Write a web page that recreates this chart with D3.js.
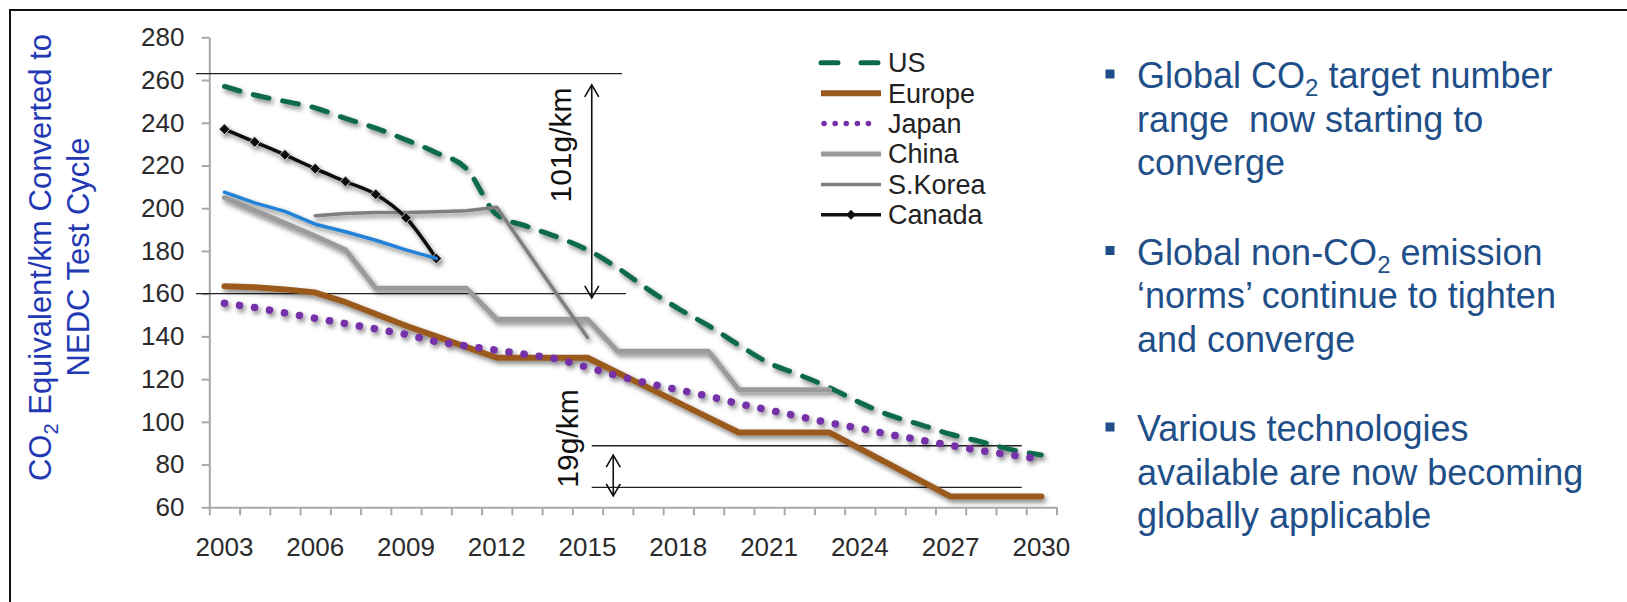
<!DOCTYPE html>
<html>
<head>
<meta charset="utf-8">
<script src="https://cdn.jsdelivr.net/npm/d3@7"></script>
<style>
  html, body { margin: 0; padding: 0; background: #ffffff; }
  svg { display: block; font-family: "Liberation Sans", Arial, Helvetica, sans-serif; }
</style>
</head>
<body>
<svg id="chart" width="1627" height="602"></svg>
<script>
// ---- data -------------------------------------------------------------
const years = [2003, 2004, 2005, 2006, 2007, 2008, 2009, 2010, 2011, 2012, 2013, 2014, 2015, 2016,
               2017, 2018, 2019, 2020, 2021, 2022, 2023, 2024, 2025, 2026, 2027, 2028, 2029, 2030];
const xTickLabels = [2003, 2006, 2009, 2012, 2015, 2018, 2021, 2024, 2027, 2030];
const yTickValues = [60, 80, 100, 120, 140, 160, 180, 200, 220, 240, 260, 280];

// g CO2/km (NEDC) per year, each series starting at its first year
const usStart = 2003;
const usValues = [257, 253, 250, 247, 242, 237.5, 232, 226, 218.5, 197, 191.5, 186.5, 180.5, 172,
                  162, 153, 145, 136, 127.5, 122, 116, 109, 103, 98.7, 94.2, 90.7, 87, 84.5];
const europeStart = 2003;
const europeValues = [163.5, 163, 162, 160.5, 156, 150.5, 145, 140, 135, 130, 130, 130, 130, 123,
                      116, 109, 102, 95, 95, 95, 95, 87.5, 80, 72.5, 65, 65, 65, 65];
const japanStart = 2003;
const japanValues = [155.5, 153.5, 151, 148.5, 146, 143.5, 141, 137.5, 135.5, 133.5, 131.5, 129.5, 125.5, 121.5,
                     118, 115, 112, 108.5, 105.5, 102.5, 99.5, 97, 94, 91.5, 89, 86.5, 84.5, 82.5];
const chinaStart = 2003;
const chinaValues = [205, 199, 193, 187, 180.5, 162.5, 162.5, 162.5, 162.5, 148, 148, 148, 148, 133,
                     133, 133, 133, 115, 115, 115, 115];
const koreaStart = 2006;
const koreaValues = [196.5, 197.5, 198, 198, 198.3, 198.8, 200.5, 180, 159.5, 139.5];
const canadaStart = 2003;
const canadaValues = [237, 231, 225, 218.5, 212.5, 206.5, 195.5, 176.5];
const blueStart = 2003;
const blueValues = [207.5, 202.5, 198.5, 192.5, 189, 185, 180.5, 176.5];

// spread annotations: horizontal guide lines and the double arrows
const guideLines = [
  { value: 263, from: 2002.06, to: 2016.14 },
  { value: 160, from: 2002.06, to: 2016.27 },
  { value: 88.8, from: 2015.14, to: 2029.35 },
  { value: 69.3, from: 2015.14, to: 2029.35 }
];
const spreadArrows = [
  { at: 2015.14, top: 257.7, bottom: 158 },
  { at: 2015.85, top: 84.4, bottom: 65.3 }
];
const spreadLabels = [
  { text: "101g/km", at: 2014.47, value: 229.6 },
  { text: "19g/km", at: 2014.68, value: 92.2 }
];

const notes = [
  ["Global CO{2} target number", "range  now starting to", "converge"],
  ["Global non-CO{2} emission", "\u2018norms\u2019 continue to tighten", "and converge"],
  ["Various technologies", "available are now becoming", "globally applicable"]
];

// ---- setup ------------------------------------------------------------
const W = 1627, H = 602;
const svg = d3.select("#chart");
const defs = svg.append("defs");
const shadow = defs.append("filter").attr("id", "shadow")
  .attr("filterUnits", "userSpaceOnUse")
  .attr("x", 0).attr("y", 0).attr("width", W).attr("height", H);
shadow.append("feDropShadow")
  .attr("dx", 2).attr("dy", 3).attr("stdDeviation", 2.4)
  .attr("flood-color", "#000").attr("flood-opacity", 0.5);

// outer frame (top and left edges visible)
svg.append("rect")
  .attr("x", 10).attr("y", 10).attr("width", W + 40).attr("height", H + 40)
  .attr("fill", "none").attr("stroke", "#111").attr("stroke-width", 2);

const x = d3.scaleBand().domain(years).range([209.3, 1056.5]).paddingInner(0).paddingOuter(0);
const cx = yr => x(yr) + x.bandwidth() / 2;
const fx = t => x.range()[0] + (t - years[0] + 0.5) * x.step();
const y = d3.scaleLinear().domain([60, 280]).range([507.3, 37.3]);

// ---- axes -------------------------------------------------------------
const axisColor = "#a9a9a9";
const tickFont = 26;
const yAxis = svg.append("g")
  .attr("transform", `translate(${x.range()[0]},0)`)
  .call(d3.axisLeft(y).tickValues(yTickValues).tickSize(7.6).tickSizeOuter(0).tickPadding(17.2));
yAxis.select(".domain").attr("stroke", axisColor).attr("stroke-width", 2);
yAxis.selectAll(".tick line").attr("stroke", axisColor).attr("stroke-width", 2);
yAxis.selectAll(".tick text").attr("font-size", tickFont).attr("fill", "#2b2b2b").attr("font-family", null);

const xb = d3.scaleLinear().domain([0, years.length]).range(x.range());
const xTicks = svg.append("g")
  .attr("transform", `translate(0,${y(60)})`)
  .call(d3.axisBottom(xb).tickValues(d3.range(0, years.length + 1)).tickSize(8).tickSizeOuter(0).tickFormat(""));
xTicks.select(".domain").attr("stroke", axisColor).attr("stroke-width", 2);
xTicks.selectAll(".tick line").attr("stroke", axisColor).attr("stroke-width", 2);

const xLabels = svg.append("g")
  .attr("transform", `translate(0,${y(60)})`)
  .call(d3.axisBottom(x).tickValues(xTickLabels).tickSize(0).tickPadding(30.5));
xLabels.select(".domain").remove();
xLabels.selectAll(".tick text").attr("font-size", tickFont).attr("fill", "#2b2b2b").attr("font-family", null);

// ---- rich text helper: {x} is set as a subscript ------------------------
function addRich(textSel, str, subSize, subShift) {
  const parts = str.split(/(\{[^}]*\})/).filter(s => s.length);
  let pending = 0;
  parts.forEach(p => {
    if (p.startsWith("{")) {
      textSel.append("tspan").attr("font-size", subSize).attr("dy", subShift).text(p.slice(1, -1));
      pending = -subShift;
    } else {
      const sp = textSel.append("tspan").text(p);
      if (pending) { sp.attr("dy", pending); pending = 0; }
    }
  });
}

// ---- y title -----------------------------------------------------------
const titleColor = "#2339b4";
const t1 = svg.append("text")
  .attr("transform", "translate(51.3,257.5) rotate(-90)")
  .attr("text-anchor", "middle").attr("font-size", 31).attr("fill", titleColor);
addRich(t1, "CO{2} Equivalent/km Converted to", 20, 7);
svg.append("text")
  .attr("transform", "translate(89.3,257) rotate(-90)")
  .attr("text-anchor", "middle").attr("font-size", 31).attr("fill", titleColor)
  .text("NEDC Test Cycle");

// ---- guide lines & arrows ---------------------------------------------
const annot = svg.append("g");
annot.selectAll("line.guide").data(guideLines).join("line")
  .attr("class", "guide")
  .attr("x1", d => fx(d.from)).attr("x2", d => fx(d.to))
  .attr("y1", d => y(d.value)).attr("y2", d => y(d.value))
  .attr("stroke", "#222").attr("stroke-width", 1.3);

spreadArrows.forEach(a => {
  const ax = fx(a.at), y1 = y(a.top), y2 = y(a.bottom);
  annot.append("line").attr("x1", ax).attr("x2", ax).attr("y1", y1).attr("y2", y2)
    .attr("stroke", "#111").attr("stroke-width", 1.6);
  annot.append("path")
    .attr("d", `M${ax - 7},${y1 + 12}L${ax},${y1}L${ax + 7},${y1 + 12}M${ax - 7},${y2 - 12}L${ax},${y2}L${ax + 7},${y2 - 12}`)
    .attr("fill", "none").attr("stroke", "#111").attr("stroke-width", 1.6);
});
spreadLabels.forEach(l => {
  annot.append("text")
    .attr("transform", `translate(${fx(l.at)},${y(l.value)}) rotate(-90)`)
    .attr("text-anchor", "middle").attr("font-size", 30).attr("fill", "#111")
    .text(l.text);
});

// ---- series -------------------------------------------------------------
function points(start, values) {
  return values.map((v, i) => ({ year: start + i, v }));
}
const series = [
  { name: "US", pts: points(usStart, usValues), color: "#0c6a4c", width: 5, dash: "16 14", curve: d3.curveMonotoneX },
  { name: "Europe", pts: points(europeStart, europeValues), color: "#9a5a1e", width: 6, dash: null, curve: d3.curveLinear },
  { name: "Japan", pts: points(japanStart, japanValues), color: "#7431a8", width: 7.5, dash: "0.1 15.1", curve: d3.curveLinear },
  { name: "China", pts: points(chinaStart, chinaValues), color: "#9b9b9b", width: 5, dash: null, curve: d3.curveLinear },
  { name: "S.Korea", pts: points(koreaStart, koreaValues), color: "#7f7f7f", width: 3.5, dash: null, curve: d3.curveLinear },
  { name: "Canada", pts: points(canadaStart, canadaValues), color: "#111111", width: 3.5, dash: null, curve: d3.curveMonotoneX, marker: true },
  { name: "", pts: points(blueStart, blueValues), color: "#2283d6", width: 3.5, dash: null, curve: d3.curveLinear }
];

const plot = svg.append("g").attr("filter", "url(#shadow)");
series.forEach(s => {
  const line = d3.line().x(d => cx(d.year)).y(d => y(d.v)).curve(s.curve);
  plot.append("path")
    .attr("d", line(s.pts))
    .attr("fill", "none")
    .attr("stroke", s.color)
    .attr("stroke-width", s.width)
    .attr("stroke-linecap", "round")
    .attr("stroke-linejoin", "round")
    .attr("stroke-dasharray", s.dash);
  if (s.marker) {
    plot.selectAll(null).data(s.pts).join("path")
      .attr("transform", d => `translate(${cx(d.year)},${y(d.v)}) rotate(45)`)
      .attr("d", d3.symbol(d3.symbolSquare, 58)())
      .attr("fill", s.color).attr("stroke", "#d8d8d8").attr("stroke-width", 0.8);
  }
});

// ---- legend -------------------------------------------------------------
const legendX0 = 821, legendX1 = 881, legendTextX = 888, legendTop = 62.8, legendStep = 30.4;
const legendItems = series.filter(s => s.name);
const legend = svg.append("g");
legendItems.forEach((s, i) => {
  const ly = legendTop + i * legendStep;
  const isUS = s.name === "US", isJapan = s.name === "Japan";
  legend.append("line")
    .attr("x1", isJapan ? legendX0 + 3 : legendX0).attr("x2", isJapan ? legendX1 - 2 : legendX1)
    .attr("y1", ly).attr("y2", ly)
    .attr("stroke", s.color).attr("stroke-width", isJapan ? 5.5 : s.width)
    .attr("stroke-linecap", (isUS || isJapan) ? "round" : "butt")
    .attr("stroke-dasharray", isUS ? "17 23" : (isJapan ? "0.1 11" : null));
  if (s.marker) {
    legend.append("path")
      .attr("transform", `translate(${(legendX0 + legendX1) / 2},${ly}) rotate(45)`)
      .attr("d", d3.symbol(d3.symbolSquare, 50)())
      .attr("fill", s.color);
  }
  legend.append("text")
    .attr("x", legendTextX).attr("y", ly).attr("dy", "0.35em")
    .attr("font-size", 27).attr("fill", "#222")
    .text(s.name);
});

// ---- side notes ---------------------------------------------------------
const noteColor = "#1f4f88";
const noteX = 1137, bulletX = 1110, noteTop = 88, noteLine = 43.7, noteGap = 176.5;
const side = svg.append("g").attr("fill", noteColor);
notes.forEach((lines, k) => {
  const base = noteTop + k * noteGap;
  side.append("rect")
    .attr("x", bulletX - 4.5).attr("y", base - 18.5).attr("width", 9).attr("height", 9)
    .attr("fill", noteColor);
  lines.forEach((ln, j) => {
    const t = side.append("text")
      .attr("x", noteX).attr("y", base + j * noteLine)
      .attr("font-size", 36)
      .style("white-space", "pre");
    addRich(t, ln, 24, 8);
  });
});
</script>
</body>
</html>
